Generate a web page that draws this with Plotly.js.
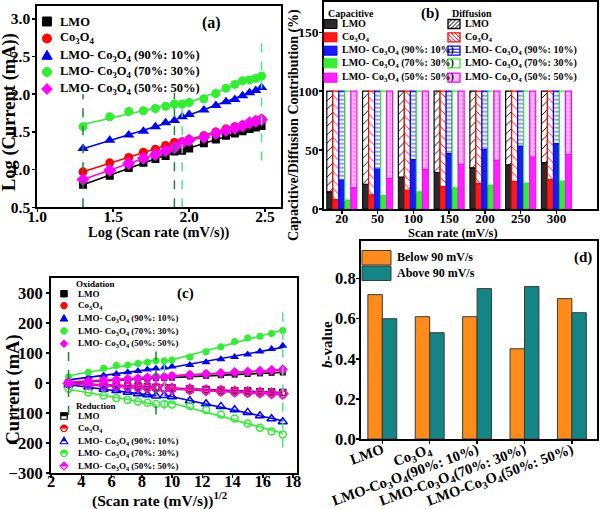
<!DOCTYPE html>
<html><head><meta charset="utf-8">
<script src="https://cdn.plot.ly/plotly-3.0.1.min.js"></script>
<style>html,body{margin:0;padding:0;background:#fff}#chart{width:600px;height:509px}</style>
</head><body><div id="chart"></div>
<script>
// ---------------- DATA ----------------
const materials = ['LMO', 'Co<sub>3</sub>O<sub>4</sub>', 'LMO- Co<sub>3</sub>O<sub>4</sub> (90%: 10%)', 'LMO- Co<sub>3</sub>O<sub>4</sub> (70%: 30%)', 'LMO- Co<sub>3</sub>O<sub>4</sub> (50%: 50%)'];

// (a) log(scan rate) vs log(current)
const logScanLow  = [1.301, 1.477, 1.602, 1.699, 1.778, 1.845, 1.903];
const logScanHigh = [1.954, 2.000, 2.097, 2.176, 2.243, 2.301, 2.352, 2.398, 2.439, 2.477];
const logI_LMO_low  = [0.80, 0.92, 1.02, 1.09, 1.14, 1.18, 1.24];
const logI_LMO_high = [1.25, 1.28, 1.35, 1.40, 1.45, 1.48, 1.51, 1.54, 1.56, 1.58];
const logI_Co_low   = [0.97, 1.09, 1.16, 1.23, 1.27, 1.32, 1.36];
const logI_Co_high  = [1.37, 1.40, 1.45, 1.50, 1.54, 1.57, 1.59, 1.62, 1.65, 1.67];
const logI_90_low   = [1.28, 1.39, 1.46, 1.51, 1.57, 1.62, 1.65];
const logI_90_high  = [1.70, 1.73, 1.79, 1.85, 1.90, 1.93, 1.98, 2.02, 2.05, 2.09];
const logI_70_low   = [1.57, 1.70, 1.77, 1.78, 1.81, 1.84, 1.87];
const logI_70_high  = [1.87, 1.89, 1.94, 2.01, 2.08, 2.13, 2.18, 2.19, 2.21, 2.24];
const logI_50_low   = [0.87, 0.99, 1.08, 1.15, 1.20, 1.25, 1.29];
const logI_50_high  = [1.35, 1.39, 1.43, 1.48, 1.52, 1.55, 1.58, 1.62, 1.64, 1.66];

// (b) capacitive contribution (%) per scan rate
const scanRatesB = ['20', '50', '100', '150', '200', '250', '300'];
const capLMO = [14.6, 21, 27, 31, 35, 37.5, 39.4];
const capCo  = [8, 12, 16, 19, 21.5, 23.5, 25];
const cap90  = [24.5, 33.8, 42, 47, 50.7, 53.5, 55.5];
const cap70  = [7.6, 11.3, 14.6, 18, 20.3, 22, 23.7];
const cap50  = [18, 26, 33.5, 38, 41.4, 44, 46.5];

// (c) sqrt(scan rate) vs peak current
const sqrtScanLow  = [3.16, 4.47, 5.48, 6.32, 7.07, 7.75, 8.37, 8.94];
const sqrtScanHigh = [9.49, 10.00, 11.18, 12.25, 13.23, 14.14, 15.00, 15.81, 16.58, 17.32];
const oxLMO_low  = [2, 5, 7, 9, 11, 12, 14, 16];
const oxLMO_high = [16, 18, 22, 24, 26, 28, 30, 32, 34, 35];
const oxCo_low   = [4, 7, 10, 12, 14, 16, 18, 21];
const oxCo_high  = [22, 25, 28, 31, 33, 35, 37, 39, 41, 43];
const ox90_low   = [11, 19, 25, 30, 36, 40, 45, 48];
const ox90_high  = [52, 55, 60, 69, 79, 87, 95, 105, 113, 124];
const ox70_low   = [20, 36, 49, 58, 60, 65, 69, 74];
const ox70_high  = [74, 77, 87, 104, 121, 138, 150, 156, 165, 175];
const ox50_low   = [3, 6, 9, 11, 13, 15, 18, 20];
const ox50_high  = [20, 23, 27, 30, 33, 36, 38, 40, 43, 45];
const redLMO_low  = [-1, -4, -6, -8, -10, -11, -12, -14];
const redLMO_high = [-16, -17, -20, -22, -24, -26, -27, -29, -30, -32];
const redCo_low   = [-3, -6, -9, -11, -13, -15, -17, -18];
const redCo_high  = [-19, -20, -24, -26, -29, -31, -33, -34, -36, -38];
const red90_low   = [-7, -13, -21, -25, -31, -36, -39, -43];
const red90_high  = [-42, -46, -59, -69, -78, -89, -98, -109, -119, -129];
const red70_low   = [-19, -32, -42, -50, -57, -62, -66, -70];
const red70_high  = [-70, -72, -77, -90, -105, -118, -135, -149, -162, -172];
const red50_low   = [-2, -5, -7, -9, -11, -13, -14, -16];
const red50_high  = [-16, -18, -21, -24, -26, -28, -30, -32, -34, -36];

// (d) b-values
const bCategories = ['LMO', 'Co<sub>3</sub>O<sub>4</sub>', 'LMO-Co<sub>3</sub>O<sub>4</sub>(90%: 10%)', 'LMO-Co<sub>3</sub>O<sub>4</sub>(70%: 30%)', 'LMO-Co<sub>3</sub>O<sub>4</sub>(50%: 50%)'];
const bBelow90 = [0.72, 0.61, 0.61, 0.45, 0.70];
const bAbove90 = [0.60, 0.53, 0.75, 0.76, 0.63];

// ---------------- STYLE ----------------
const W = 600, H = 509, F = 'Liberation Serif';
const colors = ['#000000', '#ff0000', '#0000ff', '#2ef02e', '#ff00ff'];
const symbols = ['square', 'circle', 'triangle-up', 'circle', 'diamond'];
const darkGreen = '#1e8040', lightGreen = '#45e884';

function fitLine(xs, ys) {
  const n = xs.length; let sx = 0, sy = 0, sxx = 0, sxy = 0;
  for (let i = 0; i < n; i++) { sx += xs[i]; sy += ys[i]; sxx += xs[i] * xs[i]; sxy += xs[i] * ys[i]; }
  const b = (n * sxy - sx * sy) / (n * sxx - sx * sx), a = (sy - b * sx) / n;
  return { x: [xs[0], xs[n - 1]], y: [a + b * xs[0], a + b * xs[n - 1]] };
}

const traces = [];
// (a)
const aLow = [logI_LMO_low, logI_Co_low, logI_90_low, logI_70_low, logI_50_low];
const aHigh = [logI_LMO_high, logI_Co_high, logI_90_high, logI_70_high, logI_50_high];
const sizeA = [8, 9, 10, 9, 10];
for (let i = 0; i < 5; i++) {
  [[logScanLow, aLow[i]], [logScanHigh, aHigh[i]]].forEach(([xs, ys]) => {
    const f = fitLine(xs, ys);
    traces.push({ type: 'scatter', mode: 'lines', x: f.x, y: f.y, xaxis: 'x', yaxis: 'y', line: { color: colors[i], width: 1.6 }, hoverinfo: 'skip', name: materials[i] + ' fit' });
  });
  traces.push({ type: 'scatter', mode: 'markers', name: materials[i], x: logScanLow.concat(logScanHigh), y: aLow[i].concat(aHigh[i]), xaxis: 'x', yaxis: 'y', marker: { symbol: symbols[i], size: sizeA[i], color: colors[i] } });
}
// (b)
const capAll = [capLMO, capCo, cap90, cap70, cap50];
const capFill = ['#2b2b2b', '#ff1a1a', '#1a1aff', '#33ee33', '#ff22ff'];
const diffPattern = [
  { shape: '/', fgcolor: '#000000', bgcolor: '#ffffff', size: 6, solidity: 0.15 },
  { shape: '\\', fgcolor: '#ff0000', bgcolor: '#ffffff', size: 6, solidity: 0.15 },
  { shape: '-', fgcolor: '#0000ff', bgcolor: '#ffffff', size: 4, solidity: 0.2 },
  { shape: '', fgcolor: '#ffffff', bgcolor: '#ffffff' },
  { shape: '.', fgcolor: '#ee66ee', bgcolor: '#f9bdf4', size: 4, solidity: 0.2 }
];
const bw = 0.168;
for (let i = 0; i < 5; i++) {
  const off = -0.42 + i * bw;
  traces.push({ type: 'bar', name: 'Capacitive ' + materials[i], x: scanRatesB, y: capAll[i], xaxis: 'x2', yaxis: 'y2', width: bw, offset: off,
    marker: { color: capFill[i], line: { color: colors[i] === '#2ef02e' ? '#22cc22' : colors[i], width: 1 } } });
  traces.push({ type: 'bar', name: 'Diffusion ' + materials[i], x: scanRatesB, y: capAll[i].map(v => 100 - v), base: capAll[i], xaxis: 'x2', yaxis: 'y2', width: bw, offset: off,
    marker: { color: diffPattern[i].bgcolor, pattern: diffPattern[i], line: { color: colors[i], width: 1.2 } } });
}
// (c)
const oxLow = [oxLMO_low, oxCo_low, ox90_low, ox70_low, ox50_low];
const oxHigh = [oxLMO_high, oxCo_high, ox90_high, ox70_high, ox50_high];
const redLow = [redLMO_low, redCo_low, red90_low, red70_low, red50_low];
const redHigh = [redLMO_high, redCo_high, red90_high, red70_high, red50_high];
const sizeC = [6, 7, 8, 7, 8];
for (let i = 0; i < 5; i++) {
  [[sqrtScanLow, oxLow[i]], [sqrtScanHigh, oxHigh[i]], [sqrtScanLow, redLow[i]], [sqrtScanHigh, redHigh[i]]].forEach(([xs, ys]) => {
    const f = fitLine(xs, ys);
    traces.push({ type: 'scatter', mode: 'lines', x: f.x, y: f.y, xaxis: 'x3', yaxis: 'y3', line: { color: colors[i], width: 1.6 }, hoverinfo: 'skip', name: materials[i] + ' fit' });
  });
  traces.push({ type: 'scatter', mode: 'markers', name: 'Oxidation ' + materials[i], x: sqrtScanLow.concat(sqrtScanHigh), y: oxLow[i].concat(oxHigh[i]), xaxis: 'x3', yaxis: 'y3', marker: { symbol: symbols[i], size: sizeC[i], color: colors[i] } });
  traces.push({ type: 'scatter', mode: 'markers', name: 'Reduction ' + materials[i], x: sqrtScanLow.concat(sqrtScanHigh), y: redLow[i].concat(redHigh[i]), xaxis: 'x3', yaxis: 'y3', marker: { symbol: symbols[i] + '-open', size: sizeC[i], color: colors[i], line: { width: 1.5 } } });
}
// (d)
traces.push({ type: 'bar', name: 'Below 90 mV/s', x: bCategories, y: bBelow90, xaxis: 'x4', yaxis: 'y4', width: 0.305, offset: -0.305, marker: { color: '#ff8c1a', line: { color: '#3a3a3a', width: 1 } } });
traces.push({ type: 'bar', name: 'Above 90 mV/s', x: bCategories, y: bAbove90, xaxis: 'x4', yaxis: 'y4', width: 0.305, offset: 0, marker: { color: '#138585', line: { color: '#3a3a3a', width: 1 } } });

// ---------------- HELPERS (legend keys / labels) ----------------
const P = (x, y) => (x / W).toFixed(5) + ',' + (1 - y / H).toFixed(5);
function pathShape(pts, fill, line, lw, close = true) {
  return { type: 'path', xref: 'paper', yref: 'paper', path: 'M' + pts.map(p => P(p[0], p[1])).join('L') + (close ? 'Z' : ''), fillcolor: fill, line: { color: line, width: lw }, layer: 'above' };
}
function segShape(segs, color, lw) {
  return { type: 'path', xref: 'paper', yref: 'paper', path: segs.map(s => 'M' + P(s[0][0], s[0][1]) + 'L' + P(s[1][0], s[1][1])).join(''), line: { color: color, width: lw }, layer: 'above' };
}
function symPts(kind, cx, cy, s) {
  const h = s / 2;
  if (kind === 'square') return [[cx - h, cy - h], [cx + h, cy - h], [cx + h, cy + h], [cx - h, cy + h]];
  if (kind === 'circle') { const p = []; for (let k = 0; k < 20; k++) { const t = 2 * Math.PI * k / 20; p.push([cx + h * Math.cos(t), cy + h * Math.sin(t)]); } return p; }
  if (kind === 'triangle-up') return [[cx, cy - h * 1.15], [cx + h * 1.15, cy + h * 0.85], [cx - h * 1.15, cy + h * 0.85]];
  if (kind === 'diamond') return [[cx, cy - h * 1.2], [cx + h * 1.2, cy], [cx, cy + h * 1.2], [cx - h * 1.2, cy]];
}
function clipTop(pts, cy) {
  const out = [];
  for (let i = 0; i < pts.length; i++) {
    const a = pts[i], b = pts[(i + 1) % pts.length], ina = a[1] <= cy, inb = b[1] <= cy;
    if (ina) out.push(a);
    if (ina !== inb) { const t = (cy - a[1]) / (b[1] - a[1]); out.push([a[0] + t * (b[0] - a[0]), cy]); }
  }
  return out;
}
function hatch(x0, y0, x1, y1, kind, step) {
  const segs = [];
  if (kind === '/') for (let c = x0 + y0 + step; c < x1 + y1; c += step) { const xa = Math.max(x0, c - y1), xb = Math.min(x1, c - y0); if (xb > xa) segs.push([[xa, c - xa], [xb, c - xb]]); }
  if (kind === '\\') for (let c = x0 - y1 + step; c < x1 - y0; c += step) { const xa = Math.max(x0, c + y0), xb = Math.min(x1, c + y1); if (xb > xa) segs.push([[xa, xa - c], [xb, xb - c]]); }
  if (kind === '-') for (let y = y0 + step; y < y1; y += step) segs.push([[x0, y], [x1, y]]);
  return segs;
}
function txt(x, y, text, size, extra) {
  return Object.assign({ xref: 'paper', yref: 'paper', x: x / W, y: 1 - y / H, text: text, showarrow: false, xanchor: 'left', yanchor: 'middle', font: { family: F, size: size, color: '#000', weight: 'bold' } }, extra || {});
}

const shapes = [], annotations = [];
// dashed guide lines (a)
const dashA = [[logScanLow[0], 0.5, 2.0, darkGreen], [logScanLow[logScanLow.length - 1], 0.5, 2.02, darkGreen], [logScanHigh[0], 0.5, 1.92, lightGreen], [logScanHigh[logScanHigh.length - 1], 1.12, 2.77, lightGreen]];
dashA.forEach(d => shapes.push({ type: 'line', xref: 'x', yref: 'y', x0: d[0], x1: d[0], y0: d[1], y1: d[2], line: { color: d[3], width: 1.5, dash: 'dash' } }));
// dashed guide lines (c)
const dashC = [[sqrtScanLow[0], -107, 114, darkGreen], [sqrtScanLow[sqrtScanLow.length - 1], -105, 112, darkGreen], [sqrtScanHigh[0], -88, 90, lightGreen], [sqrtScanHigh[sqrtScanHigh.length - 1], -215, 239, lightGreen]];
dashC.forEach(d => shapes.push({ type: 'line', xref: 'x3', yref: 'y3', x0: d[0], x1: d[0], y0: d[1], y1: d[2], line: { color: d[3], width: 1.5, dash: 'dash' } }));

// legend (a)
const legAy = [21.5, 38.5, 55.5, 72, 89];
for (let i = 0; i < 5; i++) {
  shapes.push(pathShape(symPts(symbols[i], 47, legAy[i], 9), colors[i], colors[i], 1));
  annotations.push(txt(58, legAy[i], materials[i], 12.5));
}
// legend (b)
const legBy = [24, 37.3, 50.7, 63.3, 77.7];
annotations.push(txt(326, 14, 'Capacitive', 10));
annotations.push(txt(450, 14, 'Diffusion', 10));
const hatchKinds = ['/', '\\', '-', '', ''];
for (let i = 0; i < 5; i++) {
  const y0 = legBy[i] - 4.5, y1 = legBy[i] + 4.5;
  shapes.push(pathShape([[324, y0], [337, y0], [337, y1], [324, y1]], capFill[i], colors[i], 1));
  annotations.push(txt(339.5, legBy[i], materials[i], 10));
  const dx0 = 448, dx1 = 460;
  shapes.push(pathShape([[dx0, y0], [dx1, y0], [dx1, y1], [dx0, y1]], diffPattern[i].bgcolor, colors[i], 1.3));
  if (hatchKinds[i]) shapes.push(segShape(hatch(dx0, y0, dx1, y1, hatchKinds[i], hatchKinds[i] === '-' ? 3 : 4), colors[i], 1));
  annotations.push(txt(463, legBy[i], materials[i], 10));
}
// legend (c)
const legOxY = [293.7, 305.7, 318.3, 331, 343.7];
const legRedY = [416, 428.3, 441, 453.3, 466];
annotations.push(txt(74, 283.5, 'Oxidation', 9));
annotations.push(txt(74, 406, 'Reduction', 9));
for (let i = 0; i < 5; i++) {
  shapes.push(pathShape(symPts(symbols[i], 64, legOxY[i], 6.5), colors[i], colors[i], 1));
  annotations.push(txt(76, legOxY[i], materials[i], 9));
  const pts = symPts(symbols[i], 64, legRedY[i], 6.5);
  shapes.push(pathShape(pts, '#ffffff', colors[i], 1.2));
  shapes.push(pathShape(clipTop(pts, legRedY[i]), colors[i], colors[i], 0.5));
  annotations.push(txt(76, legRedY[i], materials[i], 9));
}
// legend (d)
shapes.push(pathShape([[362, 250.5], [391, 250.5], [391, 265], [362, 265]], '#ff8c1a', '#3a3a3a', 1));
shapes.push(pathShape([[362, 266], [391, 266], [391, 280.5], [362, 280.5]], '#138585', '#3a3a3a', 1));
annotations.push(txt(395, 257, 'Below 90 mV/s', 12));
annotations.push(txt(395, 273, 'Above 90 mV/s', 12));

// panel labels
annotations.push(txt(211, 23, '(a)', 16, { xanchor: 'center' }));
annotations.push(txt(430, 14, '(b)', 15, { xanchor: 'center' }));
annotations.push(txt(185, 293, '(c)', 15, { xanchor: 'center' }));
annotations.push(txt(583, 257, '(d)', 15, { xanchor: 'center' }));
// axis titles
annotations.push(txt(159, 232, 'Log (Scan rate (mV/s))', 14.5, { xanchor: 'center' }));
annotations.push(txt(10, 112, 'Log (Current (mA))', 18.5, { xanchor: 'center', textangle: -90 }));
annotations.push(txt(453, 233, 'Scan rate (mV/s)', 12.5, { xanchor: 'center' }));
annotations.push(txt(294, 125, 'Capacitive/Diffusion Contribution (%)', 14, { xanchor: 'center', textangle: -90 }));
annotations.push(txt(159, 499, '(Scan rate (mV/s))<sup>1/2</sup>', 15.5, { xanchor: 'center' }));
annotations.push(txt(12.5, 390, 'Current (mA)', 18.5, { xanchor: 'center', textangle: -90 }));
annotations.push(txt(327, 345, '<i>b</i>-value', 15, { xanchor: 'center', textangle: -90 }));

// ---------------- LAYOUT ----------------
function ax(extra, fs) {
  return Object.assign({ showline: true, mirror: true, linecolor: '#000', linewidth: 2, ticks: 'outside', ticklen: 3, tickwidth: 1.5, tickcolor: '#000',
    showgrid: false, zeroline: false, fixedrange: true, tickfont: { family: F, size: fs, color: '#000', weight: 'bold' } }, extra);
}
const dom = (a, b, n) => [a / n, b / n];
const ydom = (top, bot) => [1 - bot / H, 1 - top / H];

const layout = {
  width: W, height: H, margin: { l: 0, r: 0, t: 0, b: 0 }, paper_bgcolor: '#fff', plot_bgcolor: 'rgba(0,0,0,0)',
  font: { family: F, color: '#000', weight: 'bold' }, showlegend: false, barmode: 'overlay',
  xaxis: ax({ domain: dom(37.3, 281, W), range: [1.0, 2.605], dtick: 0.5, tick0: 1, tickformat: '.1f', anchor: 'y', ticklabelstandoff: -9 }, 15.5),
  yaxis: ax({ domain: ydom(6, 207.3), range: [0.5, 3.17], dtick: 0.5, tick0: 0.5, tickformat: '.1f', anchor: 'x', ticklabelstandoff: -1 }, 15.5),
  xaxis2: ax({ domain: dom(324.3, 596.5, W), type: 'category', range: [-0.49, 7.12], anchor: 'y2', ticklabelstandoff: -7 }, 13),
  yaxis2: ax({ domain: ydom(1.7, 209), range: [0, 176], tickvals: [0, 50, 100, 150], anchor: 'x2', ticklabelstandoff: -2 }, 13.5),
  xaxis3: ax({ domain: dom(51, 297, W), type: 'linear', range: [2, 18.26], dtick: 2, tick0: 2, anchor: 'y3', ticklabelstandoff: -11 }, 16.5),
  yaxis3: ax({ domain: ydom(278, 473), range: [-300, 350], tickvals: [-300, -200, -100, 0, 100, 200, 300], anchor: 'x3' }, 16.5),
  xaxis4: ax({ domain: dom(361, 597, W), type: 'category', range: [-0.45, 4.53], tickangle: -20, anchor: 'y4', ticklabelstandoff: -8 }, 14.5),
  yaxis4: ax({ domain: ydom(240.5, 439), range: [0, 0.99], dtick: 0.2, tick0: 0, tickformat: '.1f', anchor: 'x4', ticklabelstandoff: -3 }, 16.5),
  shapes: shapes, annotations: annotations
};

Plotly.newPlot('chart', traces, layout, { staticPlot: true, displayModeBar: false });
</script></body></html>
